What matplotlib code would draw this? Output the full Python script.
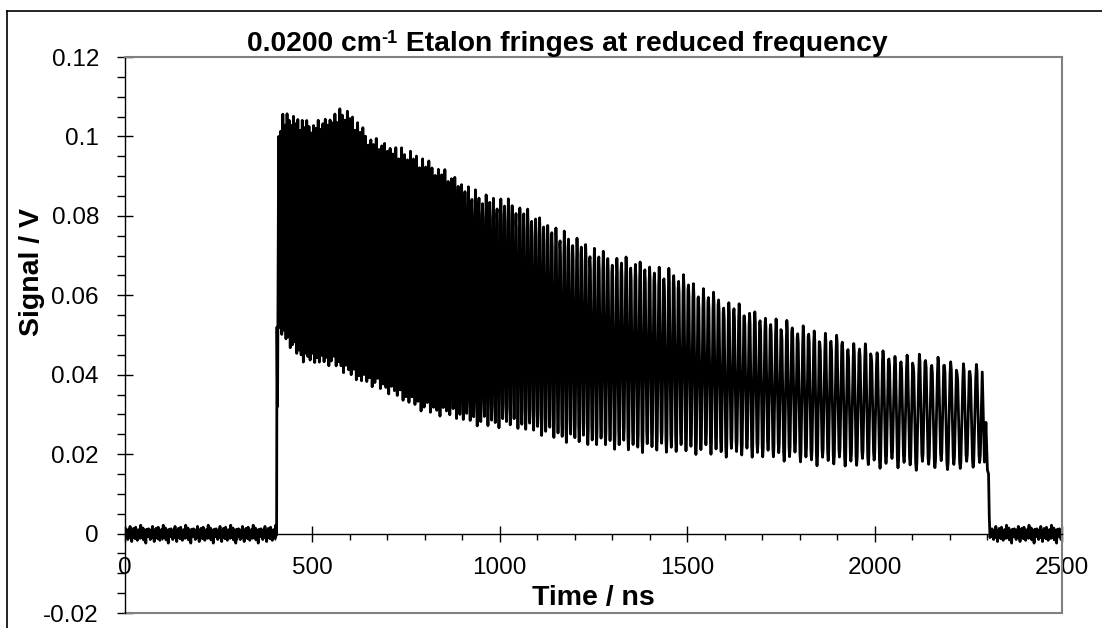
import numpy as np
import matplotlib
matplotlib.use("Agg")
import matplotlib.pyplot as plt
from matplotlib.lines import Line2D
from matplotlib.ticker import MultipleLocator, FuncFormatter

plt.rcParams['font.family'] = ['Liberation Sans', 'DejaVu Sans']

# upper / lower envelope of the fringes (ns, V)
upper_t = [410, 421, 460, 502, 545, 574, 600, 654, 707, 768, 867, 947, 1027,
           1161, 1214, 1286, 1409, 1481, 1526, 1620, 1694, 1881, 2014, 2059, 2150, 2250, 2285]
upper_v = [0.100, 0.105, 0.104, 0.1025, 0.104, 0.106, 0.1054, 0.099, 0.097, 0.0953,
           0.0898, 0.0848, 0.0833, 0.0757, 0.0732, 0.0697, 0.0669, 0.065, 0.062,
           0.0575, 0.0546, 0.0496, 0.0455, 0.0445, 0.044, 0.042, 0.0415]
lower_t = [410, 414, 440, 475, 565, 619, 699, 795, 867, 947, 1027, 1169, 1214,
           1339, 1526, 1694, 1873, 2049, 2200, 2285]
lower_v = [0.052, 0.0513, 0.048, 0.0445, 0.043, 0.0395, 0.0367, 0.0317, 0.0304,
           0.028, 0.0279, 0.0244, 0.0236, 0.0219, 0.021, 0.0200, 0.0181, 0.0174,
           0.017, 0.017]

# fringe spacing measured at a few places (ns)
period_t = [406, 700, 1027, 1348, 1876, 2150, 2290]
period_ns = [5.5, 7.5, 10.2, 12.5, 15.0, 16.7, 17.5]

# shape of one fringe: phase within the period, level between lower (0) and upper (1)
fringe_phase = [0.0, 0.1, 0.25, 0.4, 0.5, 0.6, 0.75, 0.9]
fringe_level = [1.0, 0.93, 0.5, 0.07, 0.0, 0.07, 0.5, 0.93]

# ragged peak / trough heights of successive fringes (V), repeated along the pulse
peak_jitter = [0.0000, -0.0012, 0.0006, -0.0020, 0.0010, -0.0005, -0.0016, 0.0008,
               -0.0009, 0.0003, -0.0022, 0.0005, -0.0011, 0.0009, -0.0004, -0.0018,
               0.0002, -0.0007, 0.0011, -0.0014, -0.0002, 0.0007, -0.0010]
trough_jitter = [0.0004, -0.0006, 0.0012, -0.0003, 0.0009, -0.0011, 0.0002, 0.0015,
                 -0.0008, 0.0006, 0.0000, -0.0013, 0.0010, 0.0003, -0.0005, 0.0013,
                 -0.0009]

# rising edge and the tail of the pulse
edge_t = [404.5, 405.5, 407.0, 408.5]
edge_v = [0.001, 0.052, 0.032, 0.064]
tail_t = [2293, 2297, 2301, 2304, 2306, 2308]
tail_v = [0.018, 0.028, 0.016, 0.015, 0.004, -0.001]

# baseline noise before / after the pulse (V)
noise_v = [0.0004, -0.0008, 0.0012, -0.0003, 0.0007, -0.0015, 0.0002, 0.0010,
           -0.0006, 0.0018, -0.0011, 0.0003, -0.0020, 0.0008, -0.0004, 0.0013,
           -0.0009, 0.0005, -0.0013, 0.0016, -0.0002, 0.0006, -0.0017, 0.0009,
           0.0001, -0.0007, 0.0011, -0.0012, 0.0021, -0.0005, 0.0003, -0.0010,
           0.0014, -0.0016, 0.0006, -0.0001, 0.0009, -0.0024, 0.0005, 0.0011]

TITLE = ['0.0200 cm', '-1', ' Etalon fringes at reduced frequency']
XLABEL = 'Time / ns'
YLABEL = 'Signal / V'


def baseline(t0, t1, step=1.5):
    ts = np.arange(t0, t1, step)
    vs = np.array([noise_v[i % len(noise_v)] for i in range(len(ts))])
    return list(ts), list(vs)


def fringes(t0, t1):
    ts, vs = [], []
    t = t0
    k = 0
    while t < t1:
        p = np.interp(t, period_t, period_ns)
        dp = peak_jitter[k % len(peak_jitter)]
        dt = trough_jitter[k % len(trough_jitter)]
        for f, lv in zip(fringe_phase, fringe_level):
            tt = t + p * f
            lo = np.interp(tt, lower_t, lower_v) + dt
            hi = np.interp(tt, upper_t, upper_v) + dp
            ts.append(tt)
            vs.append(lo + (hi - lo) * lv)
        t += p
        k += 1
    return ts, vs


bt0, bv0 = baseline(0, 404.5)
ft, fv = fringes(410, 2288)
bt1, bv1 = baseline(2310, 2501)
t_all = bt0 + edge_t + ft + tail_t + bt1
v_all = bv0 + edge_v + fv + tail_v + bv1

fig = plt.figure(figsize=(11.02, 6.28), dpi=100)
ax = fig.add_axes([125 / 1102, 1 - 613 / 628, (1062 - 125) / 1102, (613 - 57) / 628])

ax.plot(t_all, v_all, color='black', lw=2.0)

ax.set_xlim(0, 2500)
ax.set_ylim(-0.02, 0.12)

ax.spines['bottom'].set_position(('data', 0))
ax.spines['bottom'].set_color('black')
ax.spines['bottom'].set_linewidth(1.0)
ax.spines['left'].set_color('black')
ax.spines['left'].set_linewidth(1.0)
for s in ['top', 'right']:
    ax.spines[s].set_color('#808080')
    ax.spines[s].set_linewidth(1.5)
# plot area border at the bottom
ax.plot([0, 1], [0, 0], transform=ax.transAxes, color='#808080', lw=1.5, clip_on=False)

ax.xaxis.set_major_locator(MultipleLocator(500))
ax.xaxis.set_minor_locator(MultipleLocator(100))
ax.yaxis.set_major_locator(MultipleLocator(0.02))
ax.yaxis.set_minor_locator(MultipleLocator(0.005))
ax.yaxis.set_major_formatter(FuncFormatter(lambda v, pos: '%g' % round(v, 3)))
ax.xaxis.set_major_formatter(FuncFormatter(lambda v, pos: '%d' % v))

ax.tick_params(axis='x', which='major', direction='inout', length=11.5, width=1, pad=11,
               labelsize=17.5)
ax.tick_params(axis='x', which='minor', direction='out', length=4.5, width=1)
ax.tick_params(axis='y', which='major', direction='inout', length=11.5, width=1, pad=13,
               labelsize=17.5)
ax.tick_params(axis='y', which='minor', direction='out', length=5.8, width=1)

# title in three pieces so the superscript keeps a plain hyphen
r = fig.canvas.get_renderer()
parts = [fig.text(0, 0, TITLE[0], fontsize=20.3, fontweight='bold'),
         fig.text(0, 0, TITLE[1], fontsize=13, fontweight='bold'),
         fig.text(0, 0, TITLE[2], fontsize=20.3, fontweight='bold')]
widths = [p.get_window_extent(r).width for p in parts]
x = 567 - sum(widths) / 2
base = 628 - 51
for p, w, dy in zip(parts, widths, [0, 8, 0]):
    p.set_position((x / 1102, (base + dy) / 628))
    x += w

fig.text(593 / 1102, 1 - 598 / 628, XLABEL, ha='center', va='center',
         fontsize=20.5, fontweight='bold')
fig.text(32 / 1102, 1 - 272 / 628, YLABEL, ha='center', va='center', rotation=90,
         fontsize=20.5, fontweight='bold')

# outer chart border (cut off on the right and at the bottom)
fig.add_artist(Line2D([7 / 1102, 7 / 1102], [0, 1 - 11 / 628], color='black', lw=1.2))
fig.add_artist(Line2D([7 / 1102, 1], [1 - 11 / 628, 1 - 11 / 628], color='black', lw=1.2))

fig.savefig('out.png', dpi=100)
